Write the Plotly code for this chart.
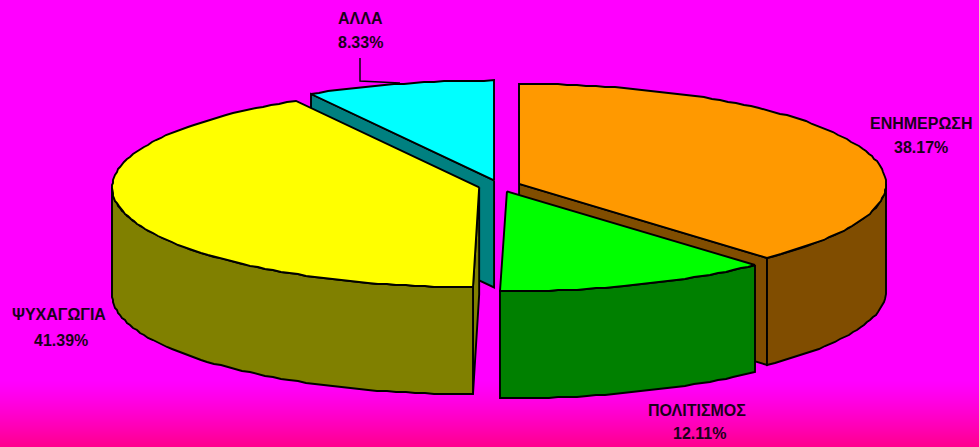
import numpy as np
import plotly.graph_objects as go

labels = ["ΕΝΗΜΕΡΩΣΗ", "ΠΟΛΙΤΙΣΜΟΣ", "ΨΥΧΑΓΩΓΙΑ", "ΑΛΛΑ"]
values = [38.17, 12.11, 41.39, 8.33]
top_colors = ["#FF9900", "#00FF00", "#FFFF00", "#00FFFF"]
side_colors = ["#804D00", "#008000", "#808000", "#008080"]

W, H = 979, 447
CX, CY, RX, RY, DEPTH, EXPLODE = 499.5, 186, 367, 100, 107, 21
LINE = dict(color="black", width=1.9)

# label centres: (name x, name y, value x, value y)
label_pos = [(921, 123, 921, 147), (697, 410, 699, 433), (59, 314, 61, 340), (360, 18, 360, 42)]

bounds = np.concatenate([[0], np.cumsum(values)]) / sum(values) * 360


def rim(a0, a1, ox, oy):
    n = max(2, int(abs(a1 - a0) / 1.5) + 1)
    a = np.radians(np.linspace(a0, a1, n))
    return np.round(ox + RX * np.sin(a)), np.round(oy - RY * np.cos(a))


fig = go.Figure()


def poly(xs, ys, fill):
    fig.add_trace(go.Scatter(x=list(xs), y=list(ys), mode="lines", fill="toself", fillcolor=fill,
                             line=LINE, hoverinfo="skip", showlegend=False))


# painter's order: back slice first, front slice last
for i in [3, 0, 2, 1]:
    a0, a1 = bounds[i], bounds[i + 1]
    mid = np.radians((a0 + a1) / 2)
    ox = CX + EXPLODE * np.sin(mid)
    oy = CY - EXPLODE * (RY / RX) * np.cos(mid)

    # radial cut wall visible to the viewer
    radial = {0: a1, 2: a0, 3: a0}.get(i)
    if radial is not None:
        ex, ey = rim(radial, radial, ox, oy)
        ex, ey = ex[0], ey[0]
        poly([ox, ex, ex, ox, ox], [oy, ey, ey + DEPTH, oy + DEPTH, oy], side_colors[i])

    # outer wall: only the part of the rim facing the front
    w0, w1 = max(a0, 90), min(a1, 270)
    if w1 > w0:
        rx_, ry_ = rim(w0, w1, ox, oy)
        poly(np.r_[rx_, rx_[::-1], rx_[0]], np.r_[ry_, ry_[::-1] + DEPTH, ry_[0]], side_colors[i])

    # top face
    rx_, ry_ = rim(a0, a1, ox, oy)
    poly(np.r_[ox, rx_, ox], np.r_[oy, ry_, oy], top_colors[i])

# leader line for the small slice
lx = label_pos[3][0]
fig.add_trace(go.Scatter(x=[lx, lx, lx + 40], y=[58, 81, 83], mode="lines",
                         line=dict(color="black", width=1.4), hoverinfo="skip", showlegend=False))

annots = []
for name, val, (nx, ny, vx, vy) in zip(labels, values, label_pos):
    for txt, x, y in [(name, nx, ny), (f"{val:.2f}%", vx, vy)]:
        annots.append(dict(x=x, y=y, text=f"<b>{txt}</b>", showarrow=False, xanchor="center", yanchor="middle",
                           font=dict(family="Liberation Sans, Arial, sans-serif", size=16, color="#1a001a")))

# background: magenta, shifting toward pink at the very bottom
shapes = []
for y in range(380, H):
    t = (y - 380) / (H - 380)
    shapes.append(dict(type="rect", layer="below", x0=0, x1=W, y0=y, y1=y + 1,
                       fillcolor=f"rgb(255,0,{int(round(255 - 115 * t ** 1.2))})", line=dict(width=0)))

fig.update_layout(
    width=W, height=H, margin=dict(l=0, r=0, t=0, b=0),
    paper_bgcolor="#FF00FF", plot_bgcolor="#FF00FF",
    xaxis=dict(range=[0, W], visible=False, fixedrange=True),
    yaxis=dict(range=[H, 0], visible=False, fixedrange=True),
    annotations=annots, shapes=shapes, showlegend=False,
)
fig.write_html("out.html", config=dict(displayModeBar=False),
               post_script="document.body.style.margin='0';document.body.style.overflow='hidden';")
